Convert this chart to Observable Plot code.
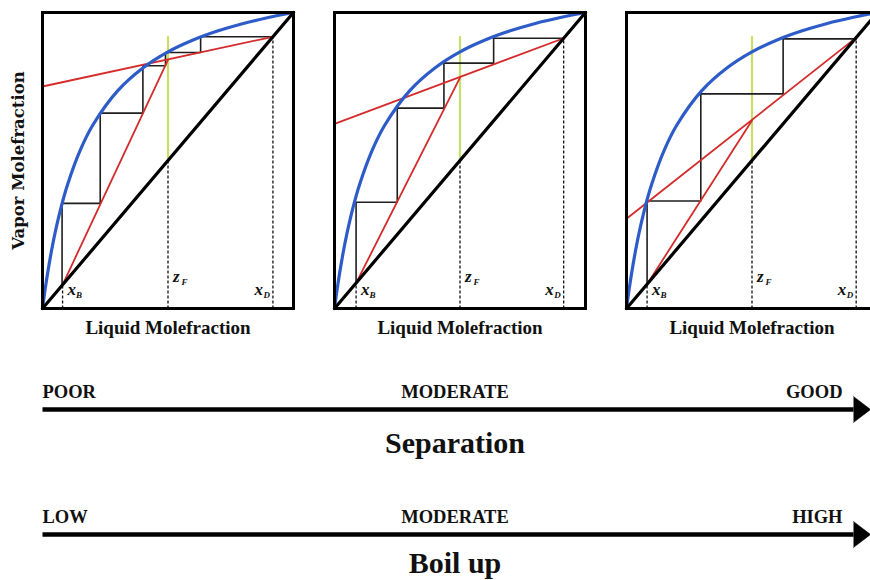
<!DOCTYPE html>
<html>
<head>
<meta charset="utf-8">
<script src="https://cdn.jsdelivr.net/npm/d3@7"></script>
<script src="https://cdn.jsdelivr.net/npm/@observablehq/plot@0.6"></script>
<style>
  html, body { margin: 0; padding: 0; background: #fff; overflow: hidden; width: 870px; height: 580px; }
  #chart svg { display: block; }
</style>
</head>
<body>
<div id="chart"></div>
<script>
// ---- McCabe-Thiele panels ----
const panels = ["Poor", "Moderate", "Good"];
const xB = [0.08, 0.086, 0.082];
const zF = [0.5, 0.5, 0.5];
const xD = [0.918, 0.913, 0.915];
const rectIntercept = [0.75, 0.624, 0.303];
const feedY = [0.84, 0.78, 0.635];
const qTop = [0.92, 0.92, 0.92];

// equilibrium curve (same in all panels)
const eqX = [0, 0.01, 0.02, 0.035, 0.05, 0.075, 0.1, 0.15, 0.2, 0.3, 0.4, 0.5, 0.6, 0.7, 0.8, 0.9, 1];
const eqY = [0, 0.062, 0.117, 0.191, 0.255, 0.345, 0.419, 0.534, 0.619, 0.736, 0.8125, 0.867, 0.907, 0.938, 0.963, 0.983, 1];

// 45-degree line
const diagX = [0, 1];
const diagY = [0, 1];

// staircase (stages) per panel
const stairsX1 = [0.918, 0.63, 0.63, 0.49, 0.49, 0.40, 0.40, 0.23, 0.23, 0.078, 0.078];
const stairsY1 = [0.918, 0.918, 0.865, 0.865, 0.82, 0.82, 0.66, 0.66, 0.355, 0.355, 0.078];
const stairsX2 = [0.913, 0.634, 0.634, 0.436, 0.436, 0.25, 0.25, 0.086, 0.086];
const stairsY2 = [0.913, 0.913, 0.829, 0.829, 0.677, 0.677, 0.359, 0.359, 0.086];
const stairsX3 = [0.915, 0.624, 0.624, 0.296, 0.296, 0.082, 0.082];
const stairsY3 = [0.911, 0.911, 0.725, 0.725, 0.363, 0.363, 0.082];

const xTitle = "Liquid Molefraction";
const yTitle = "Vapor Molefraction";
const labelMain = ["x", "z", "x"];
const labelSub = ["B", "F", "D"];
const labelBaseY = [0.044, 0.088, 0.044];

// ---- bottom arrows ----
const scaleNames = ["Separation", "Boil up"];
const lowLabels = ["POOR", "LOW"];
const midLabels = ["MODERATE", "MODERATE"];
const highLabels = ["GOOD", "HIGH"];

// ---- build tables ----
const eqRows = eqX.map((x, i) => ({x, y: eqY[i]}));
const diagRows = diagX.map((x, i) => ({x, y: diagY[i]}));
const stairsXs = [stairsX1, stairsX2, stairsX3];
const stairsYs = [stairsY1, stairsY2, stairsY3];
const stairRows = panels.flatMap((p, k) => stairsXs[k].map((x, i) => ({panel: p, x, y: stairsYs[k][i]})));
const redRows = panels.flatMap((p, k) => [
  {panel: p, seg: "rect", x: 0, y: rectIntercept[k]},
  {panel: p, seg: "rect", x: xD[k], y: xD[k]},
  {panel: p, seg: "strip", x: xB[k], y: xB[k]},
  {panel: p, seg: "strip", x: zF[k], y: feedY[k]}
]);
const dropRows = panels.flatMap((p, k) => [
  {panel: p, x: xB[k], top: xB[k]},
  {panel: p, x: zF[k], top: zF[k]},
  {panel: p, x: xD[k], top: xD[k]}
]);
const qRows = panels.map((p, k) => ({panel: p, x: zF[k], y1: zF[k], y2: qTop[k]}));
const labelRows = panels.flatMap((p, k) => [xB[k], zF[k], xD[k]].map((x, j) => ({
  panel: p, x, y: labelBaseY[j], main: labelMain[j], sub: labelSub[j], end: j === 2
})));
const startLabels = labelRows.filter(d => !d.end);
const endLabels = labelRows.filter(d => d.end);

const serif = "'Liberation Serif', 'Times New Roman', serif";

const panelsChart = Plot.plot({
  width: 880,
  height: 345,
  marginLeft: 42,
  marginRight: 2,
  marginTop: 12,
  marginBottom: 37,
  style: {maxWidth: "none", background: "white", overflow: "visible"},
  fx: {domain: panels, padding: 0.1387, axis: null},
  x: {domain: [0, 1], axis: null},
  y: {domain: [0, 1], axis: null},
  marks: [
    Plot.link(dropRows, {fx: "panel", x1: "x", x2: "x", y1: 0, y2: "top", stroke: "#111", strokeWidth: 1.3, strokeDasharray: "3,2"}),
    Plot.link(qRows, {fx: "panel", x1: "x", x2: "x", y1: "y1", y2: "y2", stroke: "#c6df68", strokeWidth: 2.2}),
    Plot.line(stairRows, {fx: "panel", x: "x", y: "y", stroke: "#1e1e1e", strokeWidth: 1.6}),
    Plot.line(redRows, {fx: "panel", x: "x", y: "y", z: "seg", stroke: "#d42b2b", strokeWidth: 1.8}),
    Plot.line(eqRows, {x: "x", y: "y", curve: "catmull-rom", stroke: "#2d5cc8", strokeWidth: 3.2}),
    Plot.line(diagRows, {x: "x", y: "y", stroke: "black", strokeWidth: 3.2}),
    Plot.frame({stroke: "black", strokeWidth: 3}),
    Plot.text(startLabels, {fx: "panel", x: "x", y: "y", text: "main", textAnchor: "start", lineAnchor: "bottom", dx: 5, fontFamily: serif, fontStyle: "italic", fontWeight: "bold", fontSize: 17, fill: "#111"}),
    Plot.text(startLabels, {fx: "panel", x: "x", y: "y", text: "sub", textAnchor: "start", lineAnchor: "bottom", dx: 13.5, dy: 3, fontFamily: serif, fontStyle: "italic", fontWeight: "bold", fontSize: 9, fill: "#111"}),
    Plot.text(endLabels, {fx: "panel", x: "x", y: "y", text: "main", textAnchor: "end", lineAnchor: "bottom", dx: -10, fontFamily: serif, fontStyle: "italic", fontWeight: "bold", fontSize: 17, fill: "#111"}),
    Plot.text(endLabels, {fx: "panel", x: "x", y: "y", text: "sub", textAnchor: "end", lineAnchor: "bottom", dx: -3, dy: 3, fontFamily: serif, fontStyle: "italic", fontWeight: "bold", fontSize: 9, fill: "#111"}),
    Plot.text([{t: xTitle}], {text: "t", frameAnchor: "bottom", lineAnchor: "bottom", dy: 25, fontFamily: serif, fontWeight: "bold", fontSize: 19, fill: "#111"}),
    Plot.text([{panel: panels[0], t: yTitle}], {fx: "panel", text: "t", frameAnchor: "left", textAnchor: "middle", lineAnchor: "middle", rotate: -90, dx: -24, fontFamily: "'DejaVu Serif', serif", fontWeight: "bold", fontSize: 16.5, fill: "#111"})
  ]
});

const arrowRows = scaleNames.map((name, i) => ({name, low: lowLabels[i], mid: midLabels[i], high: highLabels[i], start: 0, center: 0.5, end: 1}));

const arrowsChart = Plot.plot({
  width: 870,
  height: 235,
  marginLeft: 42,
  marginRight: 17,
  marginTop: 0,
  marginBottom: 0,
  style: {maxWidth: "none", background: "white", overflow: "visible"},
  x: {domain: [0, 1], axis: null},
  y: {type: "point", domain: scaleNames, range: [64, 189], padding: 0, axis: null},
  marks: [
    Plot.link(arrowRows, {x1: "start", x2: "end", y1: "name", y2: "name", stroke: "black", strokeWidth: 4.5}),
    Plot.vector(arrowRows, {x: "end", y: "name", length: 17, rotate: 90, shape: "spike", r: 13, anchor: "start", fill: "black", stroke: "black", strokeWidth: 0.5}),
    Plot.text(arrowRows, {x: "start", y: "name", text: "low", textAnchor: "start", lineAnchor: "bottom", dy: -11.5, fontFamily: serif, fontWeight: "bold", fontSize: 18.5, fill: "#111"}),
    Plot.text(arrowRows, {x: "center", y: "name", text: "mid", textAnchor: "middle", lineAnchor: "bottom", dx: 7, dy: -11.5, fontFamily: serif, fontWeight: "bold", fontSize: 18.5, fill: "#111"}),
    Plot.text(arrowRows, {x: "end", y: "name", text: "high", textAnchor: "end", lineAnchor: "bottom", dx: -11, dy: -11.5, fontFamily: serif, fontWeight: "bold", fontSize: 18.5, fill: "#111"}),
    Plot.text(arrowRows.slice(0, 1), {x: "center", y: "name", text: "name", textAnchor: "middle", lineAnchor: "bottom", dx: 7, dy: 43, fontFamily: serif, fontWeight: "bold", fontSize: 30, fill: "#111"}),
    Plot.text(arrowRows.slice(1), {x: "center", y: "name", text: "name", textAnchor: "middle", lineAnchor: "bottom", dx: 7, dy: 38.5, fontFamily: serif, fontWeight: "bold", fontSize: 30, fill: "#111"})
  ]
});

const chart = document.getElementById("chart");
chart.appendChild(panelsChart);
chart.appendChild(arrowsChart);
</script>
</body>
</html>
